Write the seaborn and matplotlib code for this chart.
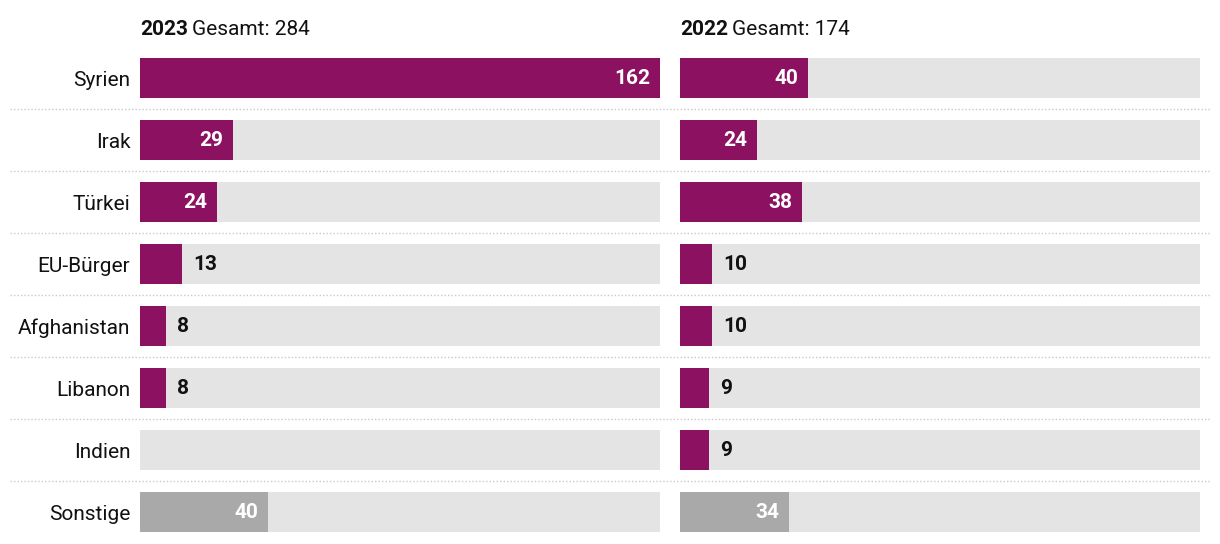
import numpy as np
import pandas as pd
import matplotlib
matplotlib.use("Agg")
import matplotlib.pyplot as plt
import seaborn as sns

# -------------------
# Data
categories = ["Syrien", "Irak", "Türkei", "EU-Bürger", "Afghanistan", "Libanon", "Indien", "Sonstige"]
values_2023 = [162, 29, 24, 13, 8, 8, np.nan, 40]
values_2022 = [40, 24, 38, 10, 10, 9, 9, 34]
panel_years = ["2023", "2022"]
panel_totals = [284, 174]

x_max = 162
purple = "#8c1160"
grey_other = "#a9a9a9"
track = "#e4e4e4"

sns.set_theme(style="white")
plt.rcParams["font.family"] = ["Liberation Sans Narrow", "Roboto", "DejaVu Sans"]

W, H = 1220, 544
fig = plt.figure(figsize=(W / 100, H / 100), dpi=100)
bottom = 1 - 543 / H
height = (543 - 47) / H

# background axes for the dotted row separators across the whole width
bg = fig.add_axes([0, bottom, 1, height], zorder=0)
bg.set_xlim(0, W)
bg.set_ylim(len(categories) - 0.5, -0.5)
bg.axis("off")
for k in range(len(categories) - 1):
    bg.plot([10, 1210], [k + 0.5, k + 0.5], color="#c9c9c9", lw=1.0,
            linestyle=(0, (1, 1.5)))

palette = {c: (grey_other if c == "Sonstige" else purple) for c in categories}
lefts = [140, 680]

for i, (vals, year, total) in enumerate(zip([values_2023, values_2022], panel_years, panel_totals)):
    ax = fig.add_axes([lefts[i] / W, bottom, 520 / W, height], zorder=1)
    ax.patch.set_alpha(0)
    df = pd.DataFrame({"land": categories, "wert": vals})

    # grey track behind every bar
    sns.barplot(data=pd.DataFrame({"land": categories, "wert": [x_max] * len(categories)}),
                x="wert", y="land", order=categories, color=track, width=0.645,
                errorbar=None, ax=ax, saturation=1, linewidth=0, edgecolor="none")
    sns.barplot(data=df.dropna(), x="wert", y="land", order=categories, hue="land",
                palette=palette, width=0.645, errorbar=None, legend=False, ax=ax,
                saturation=1, linewidth=0, edgecolor="none")

    ax.set_xlim(0, x_max)
    ax.set_ylim(len(categories) - 0.5, -0.5)
    ax.set_xlabel("")
    ax.set_ylabel("")
    ax.set_xticks([])
    for s in ax.spines.values():
        s.set_visible(False)
    if i == 0:
        ax.tick_params(axis="y", length=0, pad=7, labelsize=15, labelcolor="#111111")
    else:
        ax.set_yticklabels([])
        ax.tick_params(axis="y", length=0)

    for j, v in enumerate(vals):
        if np.isnan(v):
            continue
        if v >= 20:
            ax.annotate(f"{int(v)}", (v, j), xytext=(-7, 0), textcoords="offset points",
                        ha="right", va="center", color="white", fontsize=15,
                        fontweight="bold")
        else:
            ax.annotate(f"{int(v)}", (v, j), xytext=(8, 0), textcoords="offset points",
                        ha="left", va="center", color="#111111", fontsize=15,
                        fontweight="bold")

    # panel header
    t = ax.text(0, 1.0, year, transform=ax.transAxes, ha="left", va="bottom",
                fontsize=15, fontweight="bold", color="#111111")
    fig.canvas.draw()
    bb = t.get_window_extent().transformed(ax.transAxes.inverted())
    ax.text(bb.x1 + 0.008, 1.0, f"Gesamt: {total}", transform=ax.transAxes,
            ha="left", va="bottom", fontsize=15, color="#111111")
    t.set_y(1.0 + 8 / (543 - 47))
    ax.texts[-1].set_y(1.0 + 8 / (543 - 47))

fig.savefig("out.png", dpi=100)
